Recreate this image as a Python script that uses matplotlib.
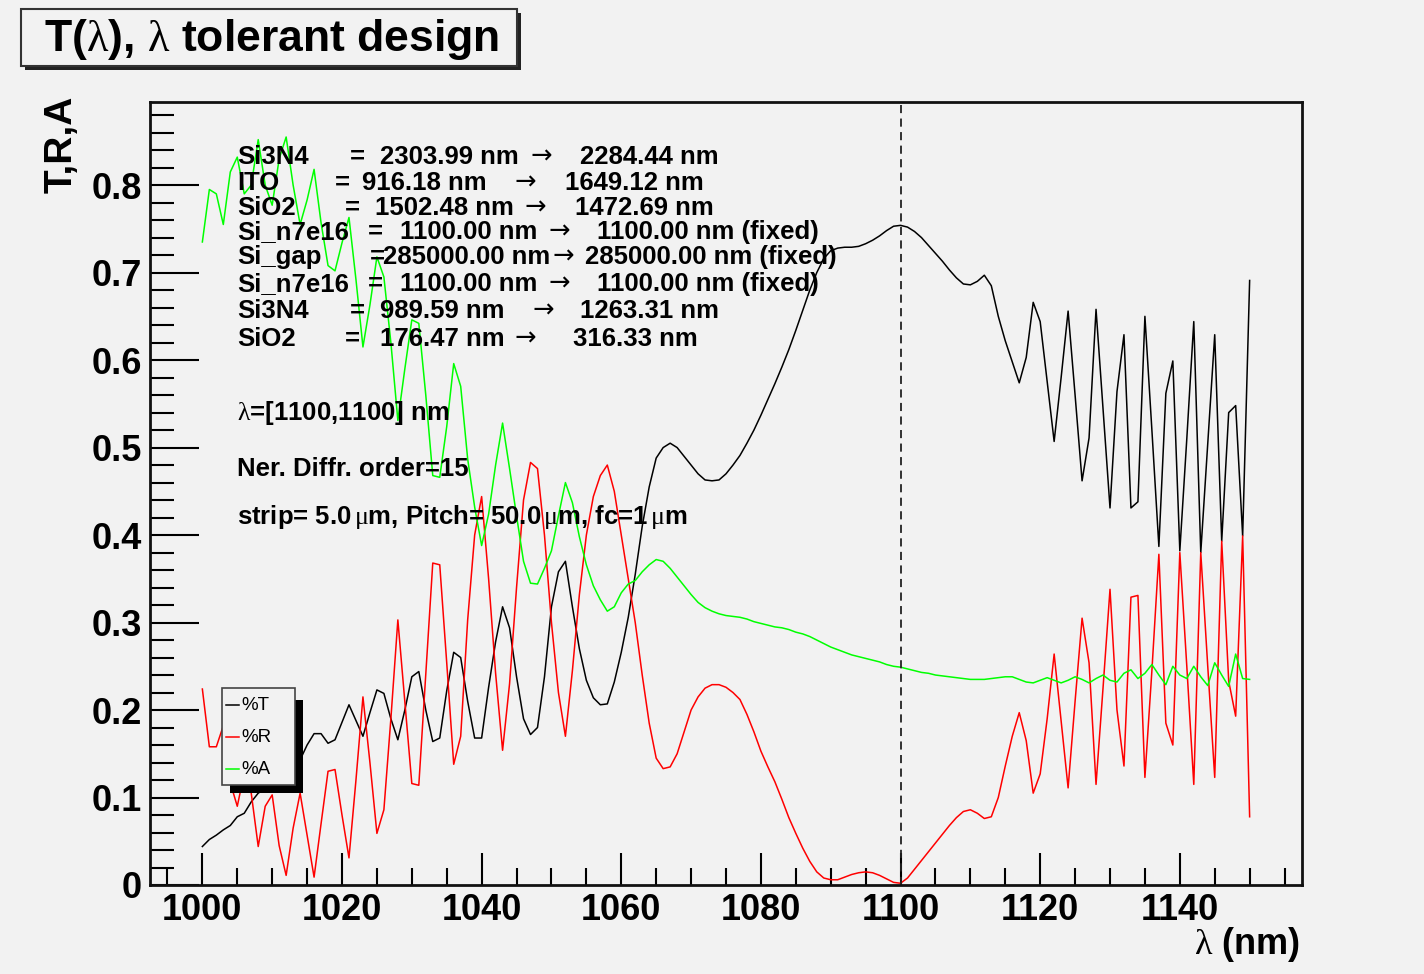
import matplotlib
matplotlib.use("Agg")
import matplotlib.pyplot as plt
from matplotlib.patches import Rectangle
from matplotlib.lines import Line2D
import numpy as np

plt.rcParams["font.family"] = ["Liberation Sans", "DejaVu Sans"]
# upright serif greek letters, like the ROOT symbol font
plt.rcParams["mathtext.fontset"] = "custom"
plt.rcParams["mathtext.rm"] = "Liberation Serif"
plt.rcParams["mathtext.it"] = "Liberation Serif"
plt.rcParams["mathtext.bf"] = "Liberation Serif"

# wavelength scan, 1 nm step
wavelength = np.arange(1000, 1151)

transmission = [
    0.044, 0.052, 0.057, 0.063, 0.068, 0.078, 0.082, 0.095, 0.105, 0.110,
    0.120, 0.125, 0.130, 0.135, 0.143, 0.160, 0.173, 0.173, 0.162, 0.166,
    0.186, 0.206, 0.188, 0.170, 0.197, 0.223, 0.219, 0.190, 0.166, 0.200,
    0.238, 0.244, 0.200, 0.164, 0.168, 0.222, 0.266, 0.260, 0.210, 0.168,
    0.168, 0.226, 0.278, 0.318, 0.294, 0.238, 0.190, 0.172, 0.180, 0.238,
    0.318, 0.358, 0.370, 0.318, 0.270, 0.234, 0.214, 0.206, 0.207, 0.232,
    0.266, 0.306, 0.355, 0.410, 0.455, 0.488, 0.500, 0.505, 0.500, 0.490,
    0.480, 0.470, 0.463, 0.462, 0.463, 0.470, 0.480, 0.491, 0.505, 0.520,
    0.537, 0.555, 0.573, 0.592, 0.612, 0.634, 0.657, 0.680, 0.700, 0.716,
    0.725, 0.728, 0.729, 0.729, 0.730, 0.733, 0.737, 0.742, 0.748, 0.753,
    0.754, 0.752, 0.747, 0.740, 0.731, 0.722, 0.713, 0.703, 0.694, 0.687,
    0.686, 0.690, 0.697, 0.685, 0.650, 0.622, 0.598, 0.574, 0.603, 0.666,
    0.644, 0.575, 0.507, 0.580, 0.656, 0.560, 0.462, 0.511, 0.658, 0.545,
    0.431, 0.564, 0.629, 0.431, 0.438, 0.650, 0.520, 0.387, 0.562, 0.599,
    0.382, 0.510, 0.644, 0.380, 0.505, 0.629, 0.393, 0.540, 0.548, 0.399,
    0.691,
]

reflection = [
    0.224, 0.158, 0.158, 0.182, 0.117, 0.090, 0.128, 0.105, 0.044, 0.090,
    0.103, 0.045, 0.011, 0.065, 0.105, 0.057, 0.009, 0.070, 0.130, 0.132,
    0.080, 0.031, 0.120, 0.215, 0.140, 0.059, 0.086, 0.190, 0.303, 0.210,
    0.116, 0.114, 0.240, 0.368, 0.366, 0.254, 0.138, 0.170, 0.303, 0.400,
    0.444, 0.350, 0.242, 0.154, 0.230, 0.340, 0.440, 0.483, 0.476, 0.400,
    0.300, 0.220, 0.170, 0.245, 0.332, 0.400, 0.444, 0.468, 0.480, 0.450,
    0.400, 0.350, 0.300, 0.240, 0.185, 0.145, 0.133, 0.135, 0.150, 0.175,
    0.200, 0.215, 0.225, 0.229, 0.229, 0.226, 0.220, 0.212, 0.195, 0.175,
    0.153, 0.135, 0.118, 0.098, 0.077, 0.059, 0.042, 0.027, 0.015, 0.008,
    0.006, 0.006, 0.009, 0.012, 0.014, 0.015, 0.014, 0.011, 0.007, 0.003,
    0.002, 0.008, 0.018, 0.028, 0.038, 0.048, 0.058, 0.068, 0.077, 0.084,
    0.086, 0.082, 0.076, 0.078, 0.100, 0.136, 0.170, 0.197, 0.165, 0.105,
    0.127, 0.190, 0.264, 0.188, 0.111, 0.210, 0.305, 0.254, 0.115, 0.225,
    0.338, 0.200, 0.136, 0.329, 0.331, 0.123, 0.245, 0.378, 0.185, 0.160,
    0.380, 0.250, 0.115, 0.380, 0.250, 0.123, 0.393, 0.233, 0.193, 0.399,
    0.078,
]

absorption = [
    0.735, 0.795, 0.790, 0.755, 0.815, 0.832, 0.790, 0.800, 0.852, 0.800,
    0.777, 0.830, 0.855, 0.800, 0.755, 0.783, 0.818, 0.757, 0.708, 0.702,
    0.734, 0.763, 0.692, 0.615, 0.663, 0.718, 0.695, 0.620, 0.531, 0.590,
    0.646, 0.642, 0.560, 0.468, 0.466, 0.524, 0.596, 0.570, 0.487, 0.432,
    0.388, 0.424, 0.480, 0.528, 0.476, 0.422, 0.370, 0.345, 0.344, 0.362,
    0.382, 0.422, 0.460, 0.437, 0.398, 0.366, 0.342, 0.326, 0.313, 0.318,
    0.334, 0.344, 0.348, 0.358, 0.366, 0.372, 0.370, 0.362, 0.352, 0.342,
    0.332, 0.323, 0.317, 0.313, 0.310, 0.308, 0.307, 0.306, 0.304, 0.301,
    0.299, 0.297, 0.295, 0.294, 0.292, 0.289, 0.287, 0.284, 0.280, 0.276,
    0.272, 0.269, 0.266, 0.263, 0.261, 0.259, 0.257, 0.255, 0.252, 0.250,
    0.249, 0.247, 0.245, 0.243, 0.242, 0.240, 0.239, 0.238, 0.237, 0.236,
    0.235, 0.235, 0.235, 0.236, 0.237, 0.238, 0.238, 0.235, 0.232, 0.231,
    0.234, 0.237, 0.234, 0.231, 0.234, 0.238, 0.235, 0.231, 0.236, 0.240,
    0.234, 0.232, 0.242, 0.246, 0.236, 0.242, 0.252, 0.240, 0.229, 0.250,
    0.240, 0.236, 0.250, 0.238, 0.228, 0.254, 0.240, 0.227, 0.264, 0.236,
    0.235,
]

series_labels = ["%T", "%R", "%A"]
series_colors = ["#000000", "#ff0000", "#00ff00"]

x_ticks = [1000, 1020, 1040, 1060, 1080, 1100, 1120, 1140]
y_ticks = [0, 0.1, 0.2, 0.3, 0.4, 0.5, 0.6, 0.7, 0.8]
y_tick_labels = ["0", "0.1", "0.2", "0.3", "0.4", "0.5", "0.6", "0.7", "0.8"]
target_wavelength = 1100

layers = ["Si3N4", "ITO", "SiO2", "Si_n7e16", "Si_gap", "Si_n7e16", "Si3N4", "SiO2"]
start_nm = ["2303.99", "916.18", "1502.48", "1100.00", "285000.00", "1100.00", "989.59", "176.47"]
end_nm = ["2284.44", "1649.12", "1472.69", "1100.00", "285000.00", "1100.00", "1263.31", "316.33"]
fixed = [False, False, False, True, True, True, False, False]

W, H = 1424, 974
BG = "#f2f2f2"


def fx(x):
    return x / W


def fy(y):
    return 1 - y / H


fig = plt.figure(figsize=(W / 100, H / 100), dpi=100)
fig.patch.set_facecolor(BG)

ax = fig.add_axes([fx(150), fy(885), 1152 / W, 783 / H])
ax.set_facecolor(BG)

curves = [transmission, reflection, absorption]
for values, color in zip(curves, series_colors):
    ax.plot(wavelength, values, color=color, lw=1.1)

ax.axvline(target_wavelength, color="#222222", lw=1.3, ls=(0, (4.5, 3)))

ax.set_xlim(992.5, 1157.5)
ax.set_ylim(0, 0.895)
ax.set_xticks(x_ticks)
ax.set_xticks(np.arange(995, 1157, 5), minor=True)
ax.set_yticks(y_ticks)
ax.set_yticks(np.arange(0, 0.895, 0.02), minor=True)
ax.set_xticklabels([str(t) for t in x_ticks], fontsize=26, fontweight="bold")
ax.set_yticklabels(y_tick_labels, fontsize=26, fontweight="bold")

ax.tick_params(axis="x", which="major", direction="in", length=23, width=1.5, pad=6)
ax.tick_params(axis="x", which="minor", direction="in", length=12, width=1.5)
ax.tick_params(axis="y", which="major", direction="in", length=35, width=1.5, pad=6)
ax.tick_params(axis="y", which="minor", direction="in", length=17, width=1.5)
for spine in ax.spines.values():
    spine.set_linewidth(2)
    spine.set_color("#111111")

# axis titles
fig.text(fx(1300), fy(944), r"$\lambda$ (nm)", fontsize=26, fontweight="bold",
         ha="right", va="center")
fig.text(fx(62), fy(96), "T,R,A", fontsize=28, fontweight="bold",
         rotation=90, ha="center", va="top")

# title box with drop shadow
fig.patches.append(Rectangle((fx(25), fy(70)), (517 - 21) / W, (66 - 9) / H,
                             transform=fig.transFigure, facecolor="#222222",
                             edgecolor="none", zorder=1))
fig.patches.append(Rectangle((fx(21), fy(66)), (517 - 21) / W, (66 - 9) / H,
                             transform=fig.transFigure, facecolor=BG,
                             edgecolor="#333333", lw=1.5, zorder=2))
fig.text(fx(44), fy(39), r"T($\lambda$), $\lambda$ tolerant design", fontsize=32,
         fontweight="bold", ha="left", va="center", zorder=3)

# layer thicknesses before -> after optimisation
line_y = [157, 183, 208, 232, 257, 284, 311, 339]
eq_x = [350, 335, 345, 368, 370, 368, 350, 345]
v1_x = [380, 362, 375, 400, 383, 400, 380, 380]
arrow_x = [531, 515, 525, 548, 552, 548, 532, 515]
v2_x = [580, 565, 575, 597, 585, 597, 580, 573]
info_size = 18.5
for i, name in enumerate(layers):
    y = fy(line_y[i])
    fig.text(fx(237), y, name, fontsize=info_size, fontweight="bold", va="center")
    fig.text(fx(eq_x[i]), y, "=", fontsize=info_size, fontweight="bold", va="center")
    fig.text(fx(v1_x[i]), y, f"{start_nm[i]} nm", fontsize=info_size,
             fontweight="bold", va="center")
    fig.text(fx(arrow_x[i]), y, "\u2192", fontsize=info_size, family="DejaVu Sans",
             va="center")
    suffix = " (fixed)" if fixed[i] else ""
    fig.text(fx(v2_x[i]), y, f"{end_nm[i]} nm{suffix}", fontsize=info_size,
             fontweight="bold", va="center")

fig.text(fx(237), fy(413), r"$\lambda$=[1100,1100] nm", fontsize=info_size,
         fontweight="bold", va="center")
fig.text(fx(237), fy(469), "Ner. Diffr. order=15", fontsize=info_size,
         fontweight="bold", va="center")
fig.text(fx(237), fy(517), r"strip= 5.0$\,\mu$m, Pitch= 50.0$\,\mu$m, fc=1$\,\mu$m",
         fontsize=info_size, fontweight="bold", va="center")

# legend box with shadow
fig.patches.append(Rectangle((fx(230), fy(793)), (303 - 230) / W, (793 - 700) / H,
                             transform=fig.transFigure, facecolor="black",
                             edgecolor="none", zorder=4))
fig.patches.append(Rectangle((fx(222), fy(785)), (295 - 222) / W, (785 - 688) / H,
                             transform=fig.transFigure, facecolor=BG,
                             edgecolor="#444444", lw=1.2, zorder=5))
for k, (label, color) in enumerate(zip(series_labels, series_colors)):
    yy = fy(705 + 32 * k)
    fig.lines.append(Line2D([fx(226), fx(239)], [yy, yy], transform=fig.transFigure,
                            color=color, lw=1.1, zorder=6))
    fig.text(fx(241), yy, label, fontsize=13.5, ha="left", va="center", zorder=6)

fig.savefig("out.png", dpi=100, facecolor=BG)
